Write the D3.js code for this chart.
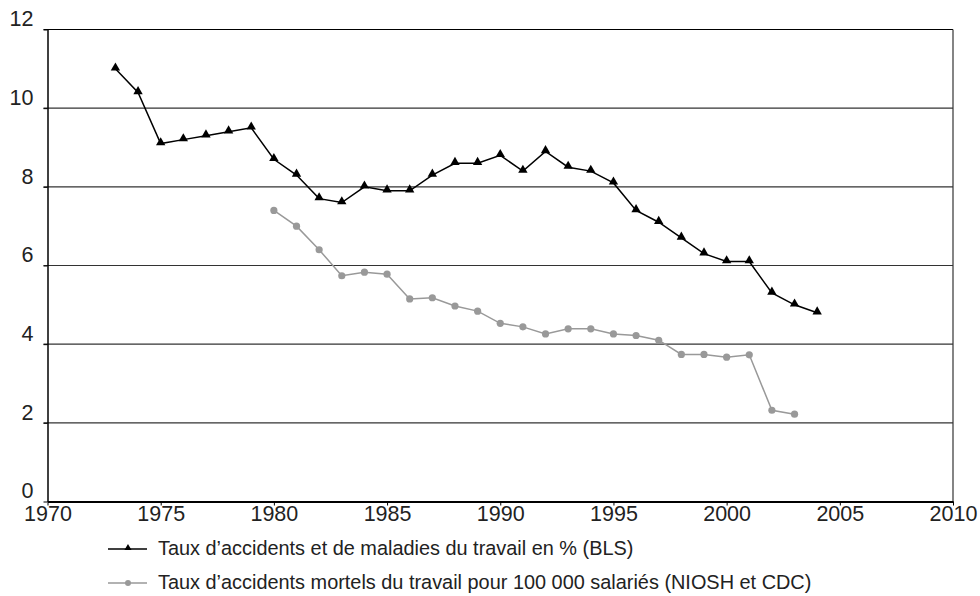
<!DOCTYPE html>
<html>
<head>
<meta charset="utf-8">
<script src="https://cdn.jsdelivr.net/npm/d3@7"></script>
<style>
  body { margin: 0; background: #fff; }
  svg text { font-family: "Liberation Sans", Arial, sans-serif; fill: #222; }
</style>
</head>
<body>
<svg width="980" height="596"></svg>
<script>
// years and values
var yearsBLS = [1973, 1974, 1975, 1976, 1977, 1978, 1979, 1980, 1981, 1982, 1983, 1984, 1985, 1986, 1987, 1988,
  1989, 1990, 1991, 1992, 1993, 1994, 1995, 1996, 1997, 1998, 1999, 2000, 2001, 2002, 2003, 2004];
var valuesBLS = [11.0, 10.4, 9.1, 9.2, 9.3, 9.4, 9.5, 8.7, 8.3, 7.7, 7.6, 8.0, 7.9, 7.9, 8.3, 8.6,
  8.6, 8.8, 8.4, 8.9, 8.5, 8.4, 8.1, 7.4, 7.1, 6.7, 6.3, 6.1, 6.1, 5.3, 5.0, 4.8];

var yearsNIOSH = [1980, 1981, 1982, 1983, 1984, 1985, 1986, 1987, 1988, 1989, 1990, 1991, 1992, 1993, 1994,
  1995, 1996, 1997, 1998, 1999, 2000, 2001, 2002, 2003];
var valuesNIOSH = [7.4, 7.0, 6.4, 5.74, 5.83, 5.78, 5.15, 5.18, 4.97, 4.84, 4.53, 4.44, 4.26, 4.39, 4.39,
  4.26, 4.22, 4.1, 3.74, 3.74, 3.67, 3.73, 2.32, 2.22];

var xTicks = [1970, 1975, 1980, 1985, 1990, 1995, 2000, 2005, 2010];
var yTicks = [0, 2, 4, 6, 8, 10, 12];

var legendLabels = [
  "Taux d\u2019accidents et de maladies du travail en % (BLS)",
  "Taux d\u2019accidents mortels du travail pour 100 000 salari\u00e9s (NIOSH et CDC)"
];

var svg = d3.select("svg");
var plotLeft = 47.5, plotRight = 953, plotTop = 29.5, plotBottom = 501.5;

var x = d3.scaleLinear().domain([1970, 2010]).range([plotLeft, plotRight]);
var y = d3.scaleLinear().domain([0, 12]).range([plotBottom, plotTop]);

// horizontal grid
svg.append("g").selectAll("line")
  .data(yTicks.filter(d => d > 0))
  .enter().append("line")
  .attr("x1", plotLeft - 4).attr("x2", plotRight)
  .attr("y1", d => y(d)).attr("y2", d => y(d))
  .attr("stroke", d => d == 12 ? "#000" : "#333")
  .attr("stroke-width", 1.2);

// right border
svg.append("line")
  .attr("x1", plotRight).attr("x2", plotRight).attr("y1", plotTop).attr("y2", plotBottom)
  .attr("stroke", "#333").attr("stroke-width", 1.2);

// y axis
var yAxis = svg.append("g")
  .attr("transform", "translate(" + plotLeft + ",0)")
  .call(d3.axisLeft(y).tickValues(yTicks).tickSize(4).tickSizeOuter(0));
yAxis.select(".domain").attr("stroke", "#000").attr("stroke-width", 1.5);
yAxis.selectAll(".tick line").attr("stroke", "#000");
yAxis.selectAll("text")
  .attr("x", -14).attr("dy", "-0.17em")
  .style("font-size", "21.5px").style("font-family", "Liberation Sans, Arial, sans-serif");

// x axis
var xAxis = svg.append("g")
  .attr("transform", "translate(0," + plotBottom + ")")
  .call(d3.axisBottom(x).tickValues(xTicks).tickFormat(d3.format("d")).tickSize(4).tickSizeOuter(0));
xAxis.select(".domain").attr("stroke", "#000").attr("stroke-width", 2);
xAxis.selectAll(".tick line").attr("stroke", "#000");
xAxis.selectAll("text")
  .attr("y", 2).attr("dy", "0.8em")
  .style("font-size", "21.5px").style("font-family", "Liberation Sans, Arial, sans-serif");
svg.selectAll(".tick text").attr("fill", "#222");

var dataBLS = yearsBLS.map((d, i) => ({ year: d, value: valuesBLS[i] }));
var dataNIOSH = yearsNIOSH.map((d, i) => ({ year: d, value: valuesNIOSH[i] }));

var line = d3.line().x(d => x(d.year)).y(d => y(d.value));
var tri = d3.symbol().type(d3.symbolTriangle).size(38);

// NIOSH series (grey circles)
svg.append("path").datum(dataNIOSH)
  .attr("d", line).attr("fill", "none")
  .attr("stroke", "#999").attr("stroke-width", 1.5);
svg.append("g").selectAll("circle")
  .data(dataNIOSH).enter().append("circle")
  .attr("cx", d => x(d.year)).attr("cy", d => y(d.value))
  .attr("r", 3.6).attr("fill", "#999");

// BLS series (black triangles)
svg.append("path").datum(dataBLS)
  .attr("d", line).attr("fill", "none")
  .attr("stroke", "#000").attr("stroke-width", 1.5);
svg.append("g").selectAll("path")
  .data(dataBLS).enter().append("path")
  .attr("d", tri)
  .attr("transform", d => "translate(" + x(d.year) + "," + (y(d.value) - 1) + ")")
  .attr("fill", "#000");

// legend
var lg = svg.append("g");
var legendY = [549, 583];
var colors = ["#000", "#999"];
legendLabels.forEach((t, i) => {
  lg.append("line")
    .attr("x1", 108).attr("x2", 147).attr("y1", legendY[i]).attr("y2", legendY[i])
    .attr("stroke", colors[i]).attr("stroke-width", 1.5);
  if (i == 0) {
    lg.append("path").attr("d", d3.symbol().type(d3.symbolTriangle).size(22))
      .attr("transform", "translate(128," + (legendY[i] - 1) + ")").attr("fill", "#000");
  } else {
    lg.append("circle").attr("cx", 128).attr("cy", legendY[i]).attr("r", 3).attr("fill", "#999");
  }
  lg.append("text")
    .attr("x", 158).attr("y", legendY[i] + 6)
    .style("font-size", "19.9px")
    .text(t);
});
</script>
</body>
</html>
